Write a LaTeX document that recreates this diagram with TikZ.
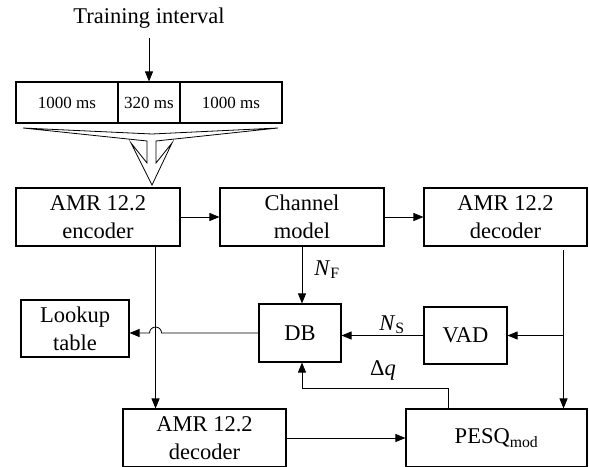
\documentclass[tikz,border=0pt]{standalone}
\usepackage{fontspec}
\setmainfont{Liberation Serif}
\usetikzlibrary{arrows.meta,calc}

\begin{document}
\begin{tikzpicture}[x=1pt,y=-1pt,
  blk/.style={draw,line width=1.1pt,inner sep=0pt,align=center,
              font=\fontsize{22.5}{28}\selectfont},
  seg/.style={draw,line width=1.1pt,inner sep=0pt,minimum height=41pt,
              font=\fontsize{17}{20}\selectfont},
  con/.style={line width=0.8pt,-{Triangle[length=10pt,width=8pt]}},
  lbl/.style={inner sep=0pt,font=\fontsize{22.5}{28}\selectfont}]
\useasboundingbox (0,0) rectangle (589,466);

% training interval bar
\node[lbl] (ti) at (149,18) {Training interval};
\node[seg,minimum width=102pt] (s1) at (67,102.5) {1000 ms};
\node[seg,minimum width=62pt]  (s2) at (149,102.5) {320 ms};
\node[seg,minimum width=102pt] (s3) at (231,102.5) {1000 ms};
\draw[con] ($(ti.south)+(0,10)$) -- (s2.north);

% hollow funnel arrow into the encoder
\draw[line width=0.8pt,line join=miter]
  (23,128) -- (147,141) -- (147,163) -- (131,143) -- (152,185)
  -- (172,143) -- (156,163) -- (156,141) -- (278,128) -- (152,134) -- cycle;

% processing blocks
\node[blk,minimum width=164pt,minimum height=58pt] (enc)  at (98,217)    {AMR 12.2\\encoder};
\node[blk,minimum width=164pt,minimum height=58pt] (ch)   at (302,217)   {Channel\\model};
\node[blk,minimum width=163pt,minimum height=58pt] (dec1) at (505.5,217) {AMR 12.2\\decoder};
\node[blk,minimum width=108pt,minimum height=57pt] (LT)   at (75,328.5)  {Lookup\\table};
\node[blk,minimum width=82pt,minimum height=58pt]  (DB)   at (300,333)   {DB};
\node[blk,minimum width=83pt,minimum height=57pt]  (VAD)  at (465.5,335.5) {VAD};
\node[blk,minimum width=163pt,minimum height=58pt] (dec2) at (204.5,438)  {AMR 12.2\\decoder};
\node[blk,minimum width=181pt,minimum height=58pt] (PESQ) at (496.5,438)  {PESQ\textsubscript{mod}};

% tap points on block edges
\coordinate (eo) at ($(enc.south east)+(-25,0)$);
\coordinate (do) at ($(dec1.south east)+(-24,3)$);
\coordinate (po) at ($(PESQ.north west)+(43,0)$);

% connectors
\draw[con] (enc.east) -- (ch.west);
\draw[con] (ch.east) -- (dec1.west);
\draw[con] (ch.south) -- (ch.south |- DB.north);
\draw[con] (eo) -- (eo |- dec2.north);
\draw[con] (DB.west) -- ($(eo |- DB.west)+(6,0)$)
  arc[start angle=0,end angle=180,radius=6pt] -- (LT.east |- DB.west);
\draw[con] (do) -- (do |- PESQ.north);
\draw[con] (do |- VAD.east) -- (VAD.east);
\draw[con] (VAD.west) -- (DB.east |- VAD.west);
\draw[con] (po) -- ++(0,-20) -| ($(DB.south)+(2,0)$);
\draw[con] (dec2.east) -- (PESQ.west |- dec2.east);

% signal labels
\node[lbl] (nf) at (327,270) {\textit{N}\textsubscript{F}};
\node[lbl] (ns) at (392,325) {\textit{N}\textsubscript{S}};
\node[lbl] (dq) at (383,370) {Δ\textit{q}};
\end{tikzpicture}
\end{document}
